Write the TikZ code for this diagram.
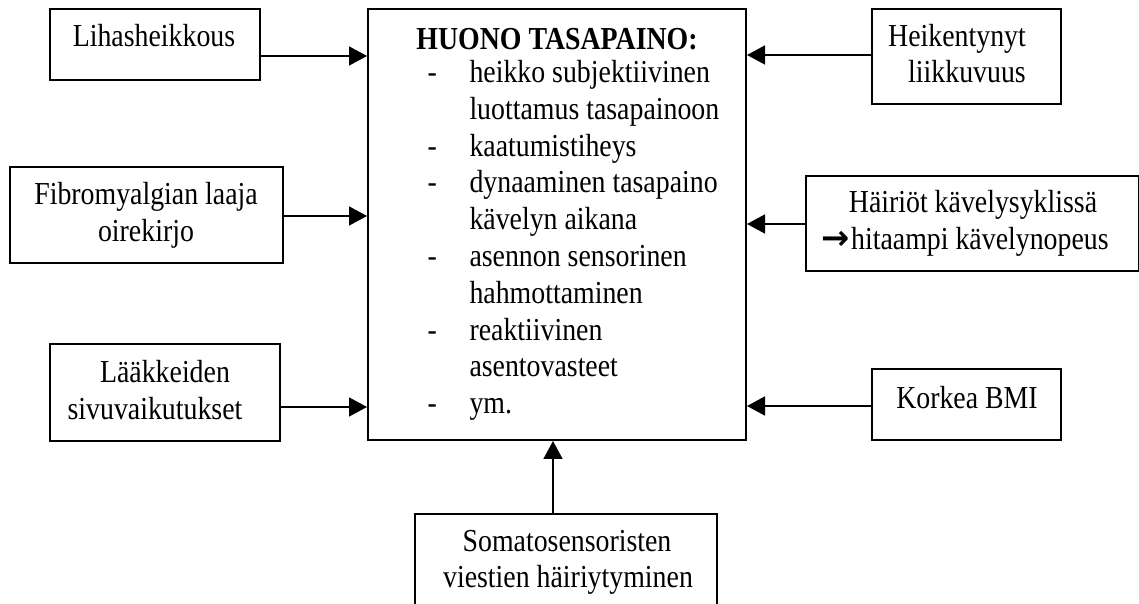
\documentclass[tikz,border=0pt]{standalone}
\usepackage{fontspec}
\setmainfont{Liberation Serif}[FakeStretch=0.87]
\newfontfamily\arrowfont{DejaVu Sans}
\usetikzlibrary{arrows.meta}
\begin{document}
\begin{tikzpicture}[x=0.4pt,y=-0.4pt,
  box/.style={draw, line width=0.8pt, rectangle, inner sep=0pt, anchor=north west},
  txt/.style={anchor=base, inner sep=0pt, font=\fontsize{12.8pt}{14.7pt}\selectfont},
  dashtxt/.style={txt, anchor=base west},
  itemtxt/.style={txt, anchor=base west},
  arr/.style={line width=0.65pt, -{Triangle[length=7.2pt,width=7.6pt]}}]
\clip (0,0) rectangle (1139,604);
\fill[white] (0,0) rectangle (1139,604);

% central box
\node[box, minimum width=378*0.4pt, minimum height=431*0.4pt] (main) at (367,8) {};
\node[txt, font=\fontsize{12.8pt}{14.7pt}\selectfont\bfseries] (title) at (557,50) {HUONO TASAPAINO:};
\node[dashtxt] (d1) at (427,83) {-};
\node[itemtxt] (i1a) at (469,83) {heikko subjektiivinen};
\node[itemtxt] (i1b) at (469,120) {luottamus tasapainoon};
\node[dashtxt] (d2) at (427,157) {-};
\node[itemtxt] (i2) at (469,157) {kaatumistiheys};
\node[dashtxt] (d3) at (427,193) {-};
\node[itemtxt] (i3a) at (469,193) {dynaaminen tasapaino};
\node[itemtxt] (i3b) at (469,230) {kävelyn aikana};
\node[dashtxt] (d4) at (427,267) {-};
\node[itemtxt] (i4a) at (469,267) {asennon sensorinen};
\node[itemtxt] (i4b) at (469,304) {hahmottaminen};
\node[dashtxt] (d5) at (427,341) {-};
\node[itemtxt] (i5a) at (469,341) {reaktiivinen};
\node[itemtxt] (i5b) at (469,377) {asentovasteet};
\node[dashtxt] (d6) at (427,414) {-};
\node[itemtxt] (i6) at (469,414) {ym.};

% boxes on the left
\node[box, minimum width=210*0.4pt, minimum height=71*0.4pt] (b1) at (49,8) {};
\node[txt] (t1) at (154,47) {Lihasheikkous};

\node[box, minimum width=273*0.4pt, minimum height=96*0.4pt] (b2) at (9,166) {};
\node[txt] (t2a) at (146,205) {Fibromyalgian laaja};
\node[txt] (t2b) at (146,242) {oirekirjo};

\node[box, minimum width=230*0.4pt, minimum height=97*0.4pt] (b3) at (49,343) {};
\node[txt] (t3a) at (165,383) {Lääkkeiden};
\node[txt] (t3b) at (155,420) {sivuvaikutukset};

% boxes on the right
\node[box, minimum width=189*0.4pt, minimum height=95*0.4pt] (b4) at (871,8) {};
\node[txt] (t4a) at (957,47) {Heikentynyt};
\node[txt] (t4b) at (967,83) {liikkuvuus};

\node[box, minimum width=333*0.4pt, minimum height=95*0.4pt] (b5) at (805,175) {};
\node[txt] (t5a) at (973,213) {Häiriöt kävelysyklissä};
\node[txt] (t5b) at (965,250) {{\arrowfont\bfseries\fontsize{13.5pt}{14.7pt}\selectfont →}\kern0.6pt hitaampi kävelynopeus};

\node[box, minimum width=189*0.4pt, minimum height=71*0.4pt] (b6) at (871,368) {};
\node[txt] (t6) at (967,409) {Korkea BMI};

% box below
\node[box, minimum width=302*0.4pt, minimum height=130*0.4pt] (b7) at (414,513) {};
\node[txt] (t7a) at (567,552) {Somatosensoristen};
\node[txt] (t7b) at (568,588) {viestien häiriytyminen};

% rows and column of the connectors
\coordinate (r1) at (0,56);
\coordinate (r2) at (0,216);
\coordinate (r3) at (0,407);
\coordinate (r4) at (0,55);
\coordinate (r5) at (0,224);
\coordinate (r6) at (0,406);
\coordinate (c7) at (553,0);

\draw[arr] (b1.east |- r1) -- (main.west |- r1);
\draw[arr] (b2.east |- r2) -- (main.west |- r2);
\draw[arr] (b3.east |- r3) -- (main.west |- r3);
\draw[arr] (b4.west |- r4) -- (main.east |- r4);
\draw[arr] (b5.west |- r5) -- (main.east |- r5);
\draw[arr] (b6.west |- r6) -- (main.east |- r6);
\draw[arr] (b7.north -| c7) -- (main.south -| c7);
\end{tikzpicture}
\end{document}
